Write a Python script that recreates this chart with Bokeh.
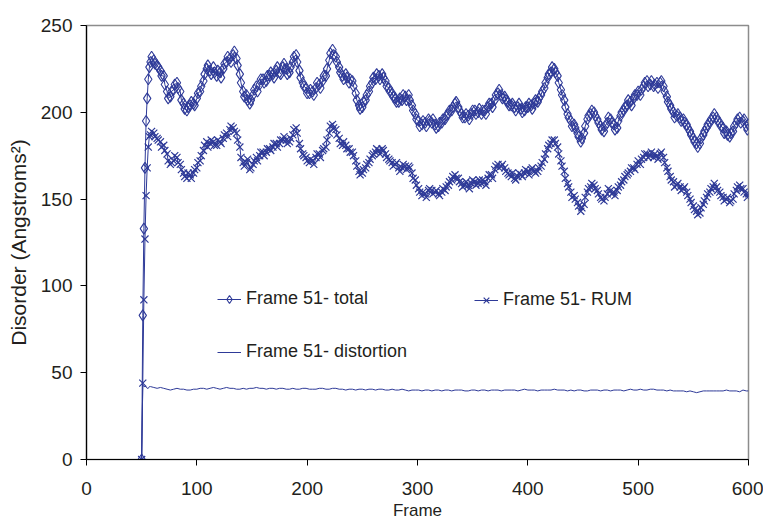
from bokeh.plotting import figure
from bokeh.models import Range1d, Legend, LegendItem, FixedTicker
from bokeh.embed import file_html
from bokeh.resources import INLINE

# ---- data ----
rise_frames = [50, 51, 52, 53, 54, 55, 56, 57]
body_frames_a = list(range(58, 599, 3)) + [600]
body_frames_b = list(range(59, 600, 3))

total_rise = [0, 83, 133, 168, 195, 208, 219, 226]
total_a = [
    229, 230, 227, 224, 221, 212, 209, 213, 217, 212,
    205, 201, 204, 205, 208, 212, 218, 225, 224, 226,
    221, 223, 225, 229, 231, 233, 231, 222, 212, 210,
    205, 210, 215, 216, 219, 218, 221, 222, 224, 223,
    226, 225, 223, 229, 233, 224, 217, 214, 211, 212,
    214, 216, 218, 221, 230, 236, 232, 226, 221, 222,
    217, 218, 211, 204, 203, 207, 212, 217, 219, 221,
    222, 218, 214, 211, 208, 206, 207, 209, 210, 204,
    199, 195, 193, 194, 196, 194, 193, 192, 194, 196,
    199, 201, 205, 203, 199, 197, 198, 199, 201, 200,
    199, 201, 203, 205, 207, 211, 210, 209, 206, 204,
    203, 203, 202, 201, 203, 204, 205, 206, 210, 214,
    220, 223, 225, 221, 213, 207, 199, 195, 193, 188,
    183, 188, 196, 199, 200, 196, 192, 189, 194, 196,
    193, 191, 198, 201, 204, 206, 208, 210, 210, 215,
    218, 216, 215, 217, 217, 215, 209, 204, 200, 198,
    197, 196, 193, 189, 185, 182, 182, 187, 191, 194,
    197, 197, 194, 191, 189, 186, 189, 194, 197, 195,
    192, 193,
]
total_b = [
    232, 228, 226, 221, 216, 208, 212, 216, 214, 207,
    202, 203, 206, 204, 211, 215, 222, 227, 222, 223,
    224, 220, 228, 232, 229, 235, 227, 217, 209, 207,
    207, 213, 212, 219, 217, 221, 223, 220, 226, 222,
    228, 222, 226, 232, 229, 220, 215, 211, 213, 210,
    217, 214, 221, 225, 234, 233, 229, 223, 219, 220,
    219, 215, 207, 202, 206, 210, 215, 220, 222, 219,
    220, 215, 212, 209, 206, 208, 210, 207, 207, 201,
    196, 192, 195, 192, 195, 196, 191, 194, 196, 198,
    201, 203, 206, 201, 197, 199, 196, 201, 199, 202,
    201, 199, 205, 203, 210, 213, 208, 207, 204, 205,
    201, 205, 200, 203, 205, 202, 207, 208, 212, 217,
    222, 226, 223, 217, 210, 203, 197, 192, 191, 186,
    185, 192, 198, 201, 198, 194, 190, 192, 197, 194,
    190, 195, 200, 203, 207, 204, 210, 212, 213, 217,
    215, 218, 216, 214, 218, 212, 206, 202, 197, 199,
    195, 194, 191, 187, 183, 180, 185, 189, 193, 196,
    199, 195, 192, 188, 187, 188, 192, 196, 194, 196,
    190,
]

rum_rise = [0, 44, 92, 127, 152, 168, 180, 186]
rum_a = [
    187, 188, 185, 183, 181, 176, 170, 172, 174, 170,
    165, 162, 164, 165, 168, 172, 178, 183, 182, 183,
    181, 183, 185, 188, 190, 191, 188, 180, 171, 171,
    167, 170, 174, 175, 177, 177, 179, 180, 182, 182,
    184, 184, 183, 187, 191, 182, 176, 174, 171, 172,
    174, 176, 178, 180, 188, 193, 190, 185, 181, 181,
    179, 177, 172, 166, 165, 168, 171, 175, 177, 178,
    179, 176, 173, 171, 170, 168, 168, 169, 169, 165,
    161, 156, 152, 153, 155, 155, 154, 153, 154, 155,
    158, 161, 164, 162, 159, 158, 158, 159, 160, 159,
    159, 160, 162, 164, 167, 170, 169, 168, 165, 163,
    162, 163, 164, 165, 166, 167, 166, 166, 169, 173,
    179, 182, 184, 180, 172, 166, 159, 154, 152, 148,
    143, 147, 154, 157, 158, 155, 151, 149, 153, 155,
    154, 155, 158, 161, 164, 166, 168, 170, 170, 174,
    176, 175, 174, 175, 176, 174, 168, 163, 160, 158,
    157, 156, 154, 150, 146, 143, 142, 147, 151, 154,
    157, 157, 154, 151, 150, 148, 150, 155, 158, 156,
    153, 153,
]
rum_b = [
    189, 186, 184, 180, 178, 172, 171, 175, 171, 167,
    163, 165, 162, 167, 171, 175, 181, 180, 184, 181,
    184, 182, 187, 186, 192, 189, 184, 174, 169, 173,
    168, 172, 172, 177, 175, 179, 178, 182, 180, 184,
    186, 182, 185, 190, 188, 179, 175, 172, 173, 170,
    176, 174, 179, 184, 192, 191, 187, 182, 183, 179,
    177, 175, 169, 164, 167, 170, 173, 176, 179, 176,
    178, 174, 172, 169, 171, 166, 170, 167, 168, 162,
    158, 154, 154, 151, 156, 153, 155, 152, 156, 157,
    160, 163, 162, 160, 157, 160, 156, 161, 158, 161,
    161, 158, 164, 162, 169, 168, 170, 166, 164, 165,
    161, 165, 163, 167, 164, 168, 165, 168, 171, 176,
    181, 184, 182, 176, 169, 162, 157, 151, 150, 146,
    145, 151, 156, 159, 156, 153, 150, 151, 156, 153,
    152, 157, 160, 163, 165, 168, 167, 172, 173, 176,
    174, 177, 176, 173, 177, 171, 166, 161, 157, 159,
    155, 157, 152, 148, 144, 141, 145, 149, 153, 156,
    159, 155, 152, 149, 151, 149, 153, 157, 156, 154,
    151,
]

dist_rise = [0, 43, 42, 42, 42, 41, 41, 42]
dist_a = [
    42, 41.5, 41, 41.5, 41, 40.5, 40, 40.5, 41, 40.5,
    40.5, 40, 40, 40.5, 40.5, 41, 41, 40.5, 41, 41.5,
    41, 40.5, 41, 41.5, 41, 41, 40.5, 40.5, 41, 40.5,
    41, 41, 41.5, 41, 41, 40.5, 41, 41, 40.5, 41,
    41, 40.5, 40.5, 41, 40.5, 40.5, 41, 41, 40.5, 40.5,
    40.5, 41, 41, 40.5, 40.5, 41, 41, 40.5, 40.5, 40,
    40.5, 40.5, 40, 40.5, 40.5, 40, 40.5, 40.5, 40, 40.5,
    40.5, 40, 40, 40.5, 40, 40, 40.5, 40, 39.5, 40,
    40, 40, 39.5, 40, 40, 39.5, 40, 40, 39.5, 40,
    40, 39.5, 40, 40, 40, 39.5, 39.5, 40, 40, 39.5,
    40, 40, 39.5, 40, 40, 40, 39.5, 40, 40, 40,
    40, 39.5, 40, 40.5, 40, 40, 40, 39.5, 40, 40,
    40, 40, 40.5, 40, 40, 40, 39.5, 40, 39.5, 40,
    40, 39.5, 39.5, 40, 40, 40, 39.5, 40, 40, 39.5,
    40, 40, 40, 39.5, 40, 40.5, 40, 40, 40.5, 40,
    40, 40.5, 40.5, 40, 40, 40, 39.5, 40, 39.5, 39.5,
    39.5, 39.5, 39, 39.5, 39, 38.5, 39, 39.5, 39.5, 39.5,
    39.5, 39.5, 39.5, 39.5, 40, 39.5, 39.5, 39.5, 39, 40,
    39.5, 39.5,
]

x_ticks = [0, 100, 200, 300, 400, 500, 600]
y_ticks = [0, 50, 100, 150, 200, 250]
labels = ["Frame 51- total", "Frame 51- RUM", "Frame 51- distortion"]


def merged(rise, a, b):
    pts = list(zip(rise_frames, rise)) + list(zip(body_frames_a, a)) + list(zip(body_frames_b, b))
    pts.sort()
    return [f for f, _ in pts], [v for _, v in pts]


tf, tv = merged(total_rise, total_a, total_b)
rf, rv = merged(rum_rise, rum_a, rum_b)
df = rise_frames + body_frames_a
dv = dist_rise + dist_a

# ---- styling ----
C = "#2E3A98"
TXT = "#231F20"
FONT = "Liberation Sans"

p = figure(width=763, height=522, x_range=Range1d(0, 600), y_range=Range1d(0, 250),
           output_backend="svg", toolbar_location=None,
           min_border_left=86, min_border_right=15, min_border_top=25, min_border_bottom=61)

p.background_fill_color = "white"
p.border_fill_color = "white"
p.outline_line_color = "#8c8c8c"
p.outline_line_width = 1.5
p.grid.visible = False

r_tl = p.line(tf, tv, line_color=C, line_width=1)
r_ts = p.scatter(tf, tv, marker="diamond", size=11, fill_color=None,
                 line_color=C, line_width=1.1)
r_rl = p.line(rf, rv, line_color=C, line_width=1)
r_rs = p.scatter(rf, rv, marker="x", size=10, line_color=C, line_width=1.2)
r_d = p.line(df, dv, line_color=C, line_width=1)

for ax in (p.xaxis[0], p.yaxis[0]):
    ax.axis_line_color = "black"
    ax.axis_line_width = 1.2
    ax.major_tick_line_color = "black"
    ax.major_tick_out = 6
    ax.major_tick_in = 0
    ax.minor_tick_line_color = None
    ax.major_label_text_font = FONT
    ax.major_label_text_font_size = "19px"
    ax.major_label_text_color = TXT
    ax.axis_label_text_font = FONT
    ax.axis_label_text_font_style = "normal"
    ax.axis_label_text_color = TXT

p.xaxis[0].ticker = FixedTicker(ticks=x_ticks)
p.yaxis[0].ticker = FixedTicker(ticks=y_ticks)
p.xaxis[0].axis_label = "Frame"
p.yaxis[0].axis_label = "Disorder (Angstroms²)"
p.xaxis[0].axis_label_text_font_size = "17px"
p.yaxis[0].axis_label_text_font_size = "21px"
p.xaxis[0].major_label_standoff = 16
p.xaxis[0].axis_label_standoff = 3
p.yaxis[0].major_label_standoff = 8
p.yaxis[0].axis_label_standoff = 8

common = dict(padding=0, margin=0, border_line_color=None, background_fill_alpha=0,
              glyph_width=24, glyph_height=20, label_standoff=5,
              label_text_font=FONT, label_text_font_size="18px", label_text_color=TXT)

leg1 = Legend(items=[LegendItem(label=labels[0], renderers=[r_tl, r_ts]),
                     LegendItem(label=labels[2], renderers=[r_d])],
              location=(131, 97), orientation="vertical", spacing=32, **common)
leg2 = Legend(items=[LegendItem(label=labels[1], renderers=[r_rl, r_rs])],
              location=(388, 149), orientation="vertical", **common)
p.add_layout(leg1)
p.add_layout(leg2)

open("out.html", "w").write(file_html(p, INLINE))
